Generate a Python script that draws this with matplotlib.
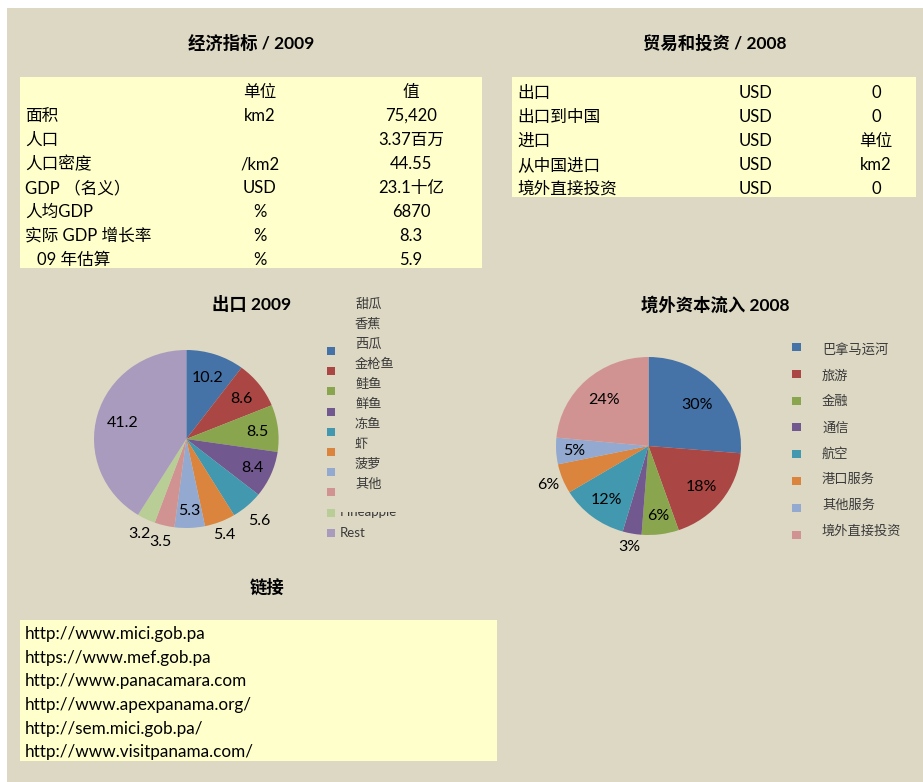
import matplotlib
matplotlib.use("Agg")
import matplotlib.pyplot as plt
from matplotlib.patches import Rectangle
import numpy as np

plt.rcParams['font.family'] = ['Lato', 'Noto Sans CJK SC', 'DejaVu Sans']

# ---------------- data ----------------
econ_title = "经济指标 / 2009"
econ_header = ["单位", "值"]
econ_labels = ["面积", "人口", "人口密度", "GDP （名义）", "人均GDP", "实际 GDP 增长率", "09 年估算"]
econ_units = ["km2", "", "/km2", "USD", "%", "%", "%"]
econ_values = ["75,420", "3.37百万", "44.55", "23.1十亿", "6870", "8.3", "5.9"]

trade_title = "贸易和投资 / 2008"
trade_labels = ["出口", "出口到中国", "进口", "从中国进口", "境外直接投资"]
trade_units = ["USD", "USD", "USD", "USD", "USD"]
trade_values = ["0", "0", "单位", "km2", "0"]

export_title = "出口 2009"
export_values = [10.2, 8.6, 8.5, 8.4, 5.6, 5.4, 5.3, 3.5, 3.2, 41.2]
export_labels = ["10.2", "8.6", "8.5", "8.4", "5.6", "5.4", "5.3", "3.5", "3.2", "41.2"]
export_legend_text = ["甜瓜", "香蕉", "西瓜", "金枪鱼", "鲑鱼", "鲜鱼", "冻鱼", "虾", "菠萝", "其他"]
export_legend_tail = ["Pineapple", "Rest"]

fdi_title = "境外资本流入 2008"
fdi_categories = ["巴拿马运河", "旅游", "金融", "通信", "航空", "港口服务", "其他服务", "境外直接投资"]
fdi_shares = [26.3, 18.4, 6.5, 3.3, 11.8, 5.4, 4.8, 23.5]
fdi_labels = ["30%", "18%", "6%", "3%", "12%", "6%", "5%", "24%"]

links_title = "链接"
links = ["http://www.mici.gob.pa", "https://www.mef.gob.pa", "http://www.panacamara.com",
         "http://www.apexpanama.org/", "http://sem.mici.gob.pa/", "http://www.visitpanama.com/"]

# ---------------- style ----------------
W, H = 923, 782
BG = "#DDD8C4"
YEL = "#FFFFCC"
PAL10 = ["#4572A7", "#AA4643", "#89A54E", "#71588F", "#4198AF",
         "#DB843D", "#93A9CF", "#D19392", "#B9CD96", "#A99BBD"]
LEG_C = "#3A3A3A"

fig = plt.figure(figsize=(W / 100, H / 100), dpi=100, facecolor="white")
bg = fig.add_axes([0, 0, 1, 1])
bg.set_xlim(0, W)
bg.set_ylim(H, 0)
bg.axis("off")
bg.add_patch(Rectangle((7, 8), W - 7, H - 8, facecolor=BG, edgecolor="none", zorder=0))

FS = 12
TFS = 12.5
OFF = 2.0  # vertical nudge for text rows

# ---- economic indicators table ----
bg.text(251, 43.5, econ_title, ha="center", va="center", fontsize=TFS, fontweight="bold")
bg.add_patch(Rectangle((20, 77), 462, 191, facecolor=YEL, edgecolor="none", zorder=1))
row0, dy = 90, 24
bg.text(260, row0 + OFF, econ_header[0], ha="center", va="center", fontsize=FS, zorder=2)
bg.text(411, row0 + OFF, econ_header[1], ha="center", va="center", fontsize=FS, zorder=2)
for i, (lab, u, v) in enumerate(zip(econ_labels, econ_units, econ_values)):
    y = row0 + dy * (i + 1) + OFF
    x0 = 37 if lab.startswith("09") else 25
    bg.text(x0, y, lab, ha="left", va="center", fontsize=FS, zorder=2)
    bg.text(260, y, u, ha="center", va="center", fontsize=FS, zorder=2)
    bg.text(411, y, v, ha="center", va="center", fontsize=FS, zorder=2)

# ---- trade table ----
bg.text(715, 43.5, trade_title, ha="center", va="center", fontsize=TFS, fontweight="bold")
bg.add_patch(Rectangle((512, 77), 404, 120, facecolor=YEL, edgecolor="none", zorder=1))
for i, (lab, u, v) in enumerate(zip(trade_labels, trade_units, trade_values)):
    y = 91 + dy * i + OFF
    bg.text(517, y, lab, ha="left", va="center", fontsize=FS, zorder=2)
    bg.text(755, y, u, ha="center", va="center", fontsize=FS, zorder=2)
    bg.text(876, y, v, ha="center", va="center", fontsize=FS, zorder=2)


def pie_axes(cx, cy, rx, ry):
    ax = fig.add_axes([(cx - rx) / W, (H - cy - ry) / H, 2 * rx / W, 2 * ry / H])
    return ax


def draw_pie(ax, vals, colors, labels, dists, fs):
    wedges, _ = ax.pie(vals, colors=colors, startangle=90, counterclock=False,
                       radius=1, wedgeprops=dict(linewidth=0))
    ax.set_aspect("auto")
    ax.set_xlim(-1, 1)
    ax.set_ylim(-1, 1)
    ax.axis("off")
    for w, lab, d in zip(wedges, labels, dists):
        th = np.deg2rad((w.theta1 + w.theta2) / 2)
        ax.text(d * np.cos(th), d * np.sin(th) - 0.015, lab, ha="center", va="center",
                fontsize=fs, color="black", clip_on=False)


# ---- export pie ----
bg.text(252, 305, export_title, ha="center", va="center", fontsize=TFS, fontweight="bold")
ax1 = pie_axes(186.3, 439, 92.3, 89)
draw_pie(ax1, export_values, PAL10, export_labels,
         [0.74, 0.75, 0.78, 0.78, 1.2, 1.14, 0.8, 1.17, 1.17, 0.72], 11.5)

# export legend (misaligned as in original)
for i, c in enumerate(PAL10):
    yc = 351 + 20.2 * i
    bg.add_patch(Rectangle((327, yc - 4), 8, 8, facecolor=c, edgecolor="none", zorder=2))
for i, t in enumerate(export_legend_text):
    bg.text(355, 304 + 20 * i, t, ha="left", va="center", fontsize=9.5, color=LEG_C, zorder=2)
bg.text(340, 516, export_legend_tail[0], ha="left", va="baseline", fontsize=9.5, color=LEG_C, zorder=2)
bg.add_patch(Rectangle((337, 498), 90, 13.5, facecolor=BG, edgecolor="none", zorder=3))
bg.text(340, 533, export_legend_tail[1], ha="left", va="center", fontsize=9.5, color=LEG_C, zorder=2)

# ---- FDI pie ----
bg.text(715, 305, fdi_title, ha="center", va="center", fontsize=TFS, fontweight="bold")
ax2 = pie_axes(648.5, 446, 92.5, 89)
draw_pie(ax2, fdi_shares, PAL10[:8], fdi_labels,
         [0.71, 0.73, 0.78, 1.14, 0.74, 1.16, 0.81, 0.72], 11.5)
for i, (cat, c) in enumerate(zip(fdi_categories, PAL10[:8])):
    ym = 347 + 26.8 * i
    bg.add_patch(Rectangle((792, ym - 4), 9, 8, facecolor=c, edgecolor="none", zorder=2))
    bg.text(822, 349.5 + 25.9 * i, cat, ha="left", va="center", fontsize=9.5, color=LEG_C, zorder=2)

# ---- links ----
bg.text(267, 587, links_title, ha="center", va="center", fontsize=TFS, fontweight="bold")
bg.add_patch(Rectangle((20, 620), 477, 141, facecolor=YEL, edgecolor="none", zorder=1))
for i, l in enumerate(links):
    bg.text(25, 634 + 23.7 * i, l, ha="left", va="center", fontsize=12.3, zorder=2)

fig.savefig("out.png", dpi=100, facecolor="white")
